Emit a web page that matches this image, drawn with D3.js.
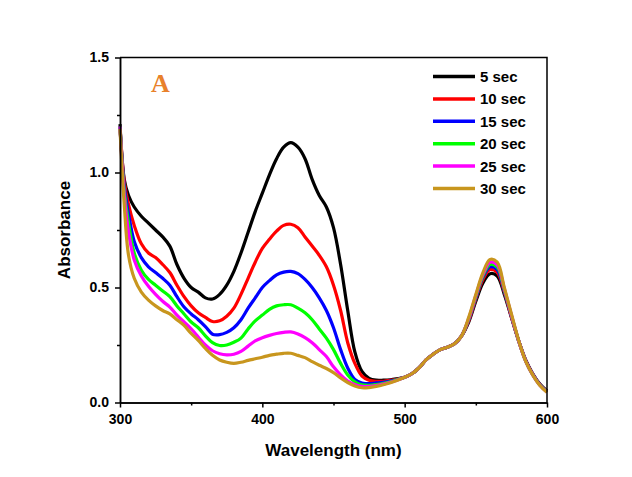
<!DOCTYPE html>
<html lang="en">
  <head>
    <meta charset="UTF-8" />
    <title>Absorbance spectra</title>
    <script src="https://d3js.org/d3.v7.min.js"></script>
    <style>
      body { margin: 0; background: #fff; }
      .axis text { font-family: Arial, "Liberation Sans", sans-serif; font-weight: bold; font-size: 14px; fill: #000; }
      .axis path, .axis line { stroke: #000; stroke-width: 1.5px; }
      .title { font-family: Arial, "Liberation Sans", sans-serif; font-weight: bold; font-size: 17px; }
      .legend text { font-family: Arial, "Liberation Sans", sans-serif; font-weight: bold; font-size: 15px; }
    </style>
  </head>
  <body>
    <svg width="632" height="477"></svg>
    <script>
      const width = 632;
      const height = 477;
      const margin = { top: 57.5, right: 85, bottom: 74.5, left: 120 };

      // wavelengths (nm)
      const wavelengths = [300, 303, 306, 310, 315, 320, 325, 330, 335, 340, 345, 350, 355, 360, 365, 370,
        375, 380, 385, 390, 395, 400, 405, 410, 415, 420, 425, 430, 435, 440, 445, 450, 455, 460, 465, 470,
        475, 480, 485, 490, 495, 500, 505, 510, 515, 520, 525, 530, 535, 540, 545, 550, 555, 560, 565, 570,
        575, 580, 585, 590, 595, 600];

      const labels = ["5 sec", "10 sec", "15 sec", "20 sec", "25 sec", "30 sec"];
      const colors = ["#000000", "#ff0000", "#0000ff", "#00ff00", "#ff00ff", "#c8961e"];

      const sec5 = [1.21, 0.97, 0.90, 0.85, 0.81, 0.78, 0.75, 0.72, 0.68, 0.60, 0.54, 0.50, 0.48, 0.455, 0.45, 0.47,
        0.51, 0.57, 0.65, 0.74, 0.83, 0.91, 0.99, 1.06, 1.11, 1.13, 1.11, 1.06, 0.97, 0.90, 0.85, 0.76, 0.60, 0.40, 0.22, 0.135,
        0.105, 0.097, 0.097, 0.099, 0.104, 0.11, 0.125, 0.15, 0.185, 0.21, 0.23, 0.24, 0.255, 0.29, 0.35, 0.44, 0.52, 0.56, 0.55, 0.47,
        0.37, 0.27, 0.185, 0.125, 0.08, 0.05];
      const sec10 = [1.2, 0.96, 0.86, 0.77, 0.69, 0.65, 0.63, 0.60, 0.565, 0.51, 0.46, 0.42, 0.39, 0.37, 0.352, 0.355,
        0.375, 0.41, 0.47, 0.54, 0.61, 0.67, 0.71, 0.745, 0.77, 0.775, 0.76, 0.72, 0.68, 0.64, 0.59, 0.51, 0.40, 0.26, 0.17, 0.115,
        0.097, 0.092, 0.092, 0.096, 0.102, 0.11, 0.125, 0.15, 0.185, 0.21, 0.23, 0.24, 0.255, 0.29, 0.355, 0.45, 0.535, 0.578, 0.566, 0.48,
        0.37, 0.27, 0.183, 0.123, 0.078, 0.048];
      const sec15 = [1.2, 0.94, 0.82, 0.70, 0.63, 0.59, 0.565, 0.54, 0.51, 0.46, 0.415, 0.385, 0.36, 0.33, 0.297, 0.295,
        0.305, 0.325, 0.36, 0.41, 0.455, 0.50, 0.53, 0.555, 0.567, 0.57, 0.56, 0.535, 0.50, 0.455, 0.40, 0.325, 0.23, 0.15, 0.10, 0.085,
        0.082, 0.085, 0.088, 0.093, 0.10, 0.11, 0.125, 0.15, 0.185, 0.21, 0.23, 0.24, 0.255, 0.29, 0.36, 0.455, 0.545, 0.59, 0.578, 0.485,
        0.375, 0.27, 0.182, 0.122, 0.077, 0.047];
      const sec20 = [1.2, 0.92, 0.78, 0.65, 0.575, 0.535, 0.51, 0.485, 0.46, 0.42, 0.385, 0.35, 0.325, 0.29, 0.26, 0.248,
        0.25, 0.262, 0.28, 0.32, 0.355, 0.38, 0.405, 0.42, 0.425, 0.425, 0.41, 0.39, 0.36, 0.32, 0.28, 0.23, 0.17, 0.12, 0.09, 0.077,
        0.075, 0.078, 0.083, 0.09, 0.10, 0.11, 0.125, 0.15, 0.185, 0.21, 0.23, 0.24, 0.255, 0.29, 0.362, 0.46, 0.55, 0.60, 0.588, 0.49,
        0.378, 0.27, 0.18, 0.12, 0.076, 0.046];
      const sec25 = [1.2, 0.90, 0.74, 0.62, 0.55, 0.505, 0.47, 0.44, 0.415, 0.38, 0.35, 0.32, 0.285, 0.25, 0.225, 0.212,
        0.207, 0.21, 0.222, 0.245, 0.268, 0.282, 0.292, 0.30, 0.305, 0.307, 0.298, 0.282, 0.26, 0.23, 0.20, 0.155, 0.12, 0.093, 0.078, 0.07,
        0.07, 0.074, 0.08, 0.088, 0.098, 0.11, 0.125, 0.15, 0.185, 0.21, 0.23, 0.24, 0.255, 0.29, 0.365, 0.465, 0.557, 0.61, 0.598, 0.495,
        0.38, 0.27, 0.18, 0.12, 0.075, 0.045];
      const sec30 = [1.19, 0.86, 0.64, 0.54, 0.48, 0.445, 0.42, 0.40, 0.385, 0.36, 0.335, 0.30, 0.27, 0.235, 0.205, 0.185,
        0.175, 0.17, 0.175, 0.183, 0.19, 0.197, 0.205, 0.21, 0.214, 0.214, 0.205, 0.195, 0.178, 0.162, 0.148, 0.13, 0.107, 0.087, 0.072, 0.064,
        0.065, 0.07, 0.077, 0.086, 0.097, 0.11, 0.125, 0.15, 0.185, 0.21, 0.23, 0.24, 0.255, 0.29, 0.37, 0.47, 0.565, 0.622, 0.61, 0.50,
        0.385, 0.272, 0.18, 0.12, 0.074, 0.044];

      const series = [sec5, sec10, sec15, sec20, sec25, sec30];

      const xTicks = [300, 400, 500, 600];
      const xMinor = [350, 450, 550];
      const yTicks = [0, 0.5, 1.0, 1.5];
      const yMinor = [0.25, 0.75, 1.25];

      const svg = d3.select("svg").attr("width", width).attr("height", height);

      const x = d3.scaleLinear().domain([300, 600]).range([margin.left, width - margin.right]);
      const y = d3.scaleLinear().domain([0, 1.5]).range([height - margin.bottom, margin.top]);

      // curves
      const line = d3.line()
        .x((d, i) => x(wavelengths[i]))
        .y((d) => y(d))
        .curve(d3.curveCatmullRom.alpha(0.5));

      svg.append("g")
        .selectAll("path")
        .data(series)
        .enter()
        .append("path")
        .attr("d", line)
        .attr("fill", "none")
        .attr("stroke", (d, i) => colors[i])
        .attr("stroke-width", 3.2)
        .attr("stroke-linejoin", "round");

      // frame (top + right)
      svg.append("path")
        .attr("d", `M${x(300)},${y(1.5)}H${x(600)}V${y(0)}`)
        .attr("fill", "none")
        .attr("stroke", "#000")
        .attr("stroke-width", 1.5);

      // axes
      svg.append("g")
        .attr("class", "axis")
        .attr("transform", `translate(0,${y(0)})`)
        .call(d3.axisBottom(x).tickValues(xTicks).tickSize(5).tickPadding(7).tickSizeOuter(0));
      svg.append("g")
        .attr("class", "axis")
        .attr("transform", `translate(0,${y(0)})`)
        .call(d3.axisBottom(x).tickValues(xMinor).tickSize(3).tickFormat("").tickSizeOuter(0));

      svg.append("g")
        .attr("class", "axis")
        .attr("transform", `translate(${x(300)},0)`)
        .call(d3.axisLeft(y).tickValues(yTicks).tickFormat(d3.format(".1f")).tickSize(5).tickPadding(6).tickSizeOuter(0));
      svg.append("g")
        .attr("class", "axis")
        .attr("transform", `translate(${x(300)},0)`)
        .call(d3.axisLeft(y).tickValues(yMinor).tickSize(3).tickFormat("").tickSizeOuter(0));

      // axis titles
      svg.append("text")
        .attr("class", "title")
        .attr("x", (x(300) + x(600)) / 2)
        .attr("y", 456)
        .attr("text-anchor", "middle")
        .text("Wavelength (nm)");

      svg.append("text")
        .attr("class", "title")
        .attr("transform", `translate(70,${(y(0) + y(1.5)) / 2}) rotate(-90)`)
        .attr("text-anchor", "middle")
        .text("Absorbance");

      // panel letter
      svg.append("text")
        .attr("x", 151)
        .attr("y", 92)
        .attr("font-family", "'Liberation Serif', 'Times New Roman', serif")
        .attr("font-weight", "bold")
        .attr("font-size", 26)
        .attr("fill", "#e8812c")
        .text("A");

      // legend
      const legend = svg.append("g").attr("class", "legend");
      const row = legend.selectAll("g")
        .data(labels)
        .enter()
        .append("g")
        .attr("transform", (d, i) => `translate(433,${76.5 + i * 22.4})`);
      row.append("line")
        .attr("x1", 0).attr("x2", 42)
        .attr("stroke", (d, i) => colors[i])
        .attr("stroke-width", 3.5);
      row.append("text")
        .attr("x", 47)
        .attr("y", 5.5)
        .text((d) => d);
    </script>
  </body>
</html>
